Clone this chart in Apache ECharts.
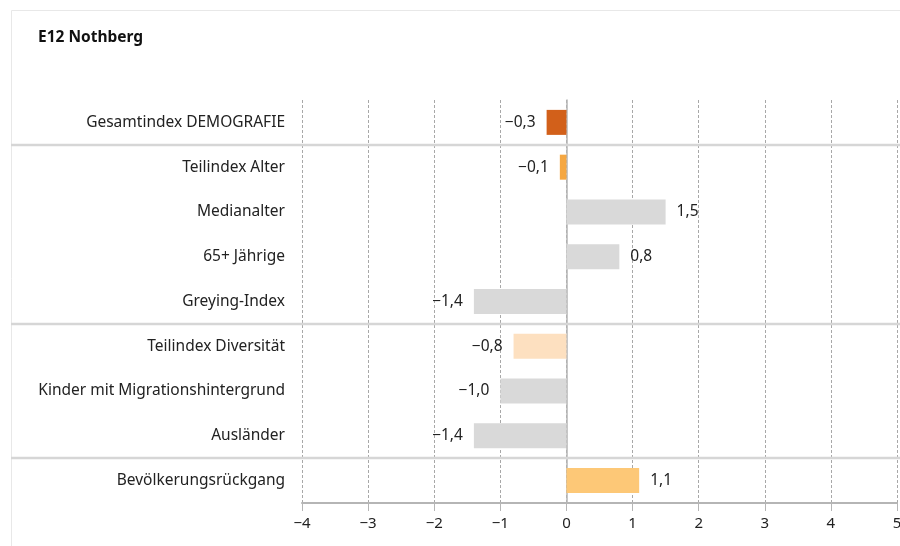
<!DOCTYPE html>
<html>
<head>
<meta charset="utf-8">
<script src="https://cdn.jsdelivr.net/npm/echarts@6/dist/echarts.min.js"></script>
<style>
  html, body { margin: 0; padding: 0; background: #fff; }
  #chart { width: 900px; height: 546px; }
</style>
</head>
<body>
<div id="chart"></div>
<script>
// Indicator names, top to bottom
const categories = [
  'Gesamtindex DEMOGRAFIE',
  'Teilindex Alter',
  'Medianalter',
  '65+ Jährige',
  'Greying-Index',
  'Teilindex Diversität',
  'Kinder mit Migrationshintergrund',
  'Ausländer',
  'Bevölkerungsrückgang'
];
// Index values per indicator
const values = [-0.3, -0.1, 1.5, 0.8, -1.4, -0.8, -1.0, -1.4, 1.1];
// Bar fill per indicator
const barColors = [
  '#d2601a', '#f5a742', '#d9d9d9', '#d9d9d9', '#d9d9d9',
  '#fde0c0', '#d9d9d9', '#d9d9d9', '#fdc877'
];
// Value axis ticks
const tickValues = [-4, -3, -2, -1, 0, 1, 2, 3, 4, 5];
// Group separators are drawn before these category positions
const groupStarts = [1, 5, 8];

const FONT = '"Noto Sans", "DejaVu Sans", sans-serif';
const fmt = v => String(v.toFixed(1)).replace('.', ',').replace('-', '\u2212');

const chart = echarts.init(document.getElementById('chart'), null, { renderer: 'canvas' });

chart.setOption({
  backgroundColor: '#fff',
  animation: false,
  title: {
    text: 'E12 Nothberg',
    left: 33,
    top: 25,
    textStyle: { fontFamily: FONT, fontSize: 15.5, fontWeight: 'bold', color: '#111' }
  },
  grid: { left: 302, right: 3, top: 100, bottom: 43, containLabel: false, outerBoundsMode: 'none' },
  xAxis: {
    type: 'value',
    min: tickValues[0],
    max: tickValues[tickValues.length - 1],
    interval: 1,
    axisLine: { show: true, lineStyle: { color: '#b5b5b5', width: 2 } },
    axisTick: { show: true, length: 8, lineStyle: { color: '#b5b5b5', width: 1 } },
    axisLabel: {
      margin: 13,
      fontFamily: FONT, fontSize: 15, color: '#222',
      formatter: v => String(v).replace('-', '\u2212')
    },
    splitLine: { show: true, lineStyle: { color: '#a8a8a8', type: [3, 2], width: 1 } }
  },
  yAxis: {
    type: 'category',
    inverse: true,
    data: categories,
    axisLine: { show: true, onZero: true, lineStyle: { color: '#b5b5b5', width: 1.5 } },
    axisTick: { show: false },
    axisLabel: { margin: 17, fontFamily: FONT, fontSize: 15.5, color: '#222' },
    splitLine: { show: false }
  },
  series: [{
    type: 'bar',
    barWidth: 25,
    data: values.map((v, i) => ({
      value: v,
      itemStyle: { color: barColors[i] },
      label: { position: v < 0 ? 'left' : 'right' }
    })),
    label: {
      show: true,
      distance: 11,
      fontFamily: FONT, fontSize: 15.5, color: '#222',
      formatter: p => fmt(p.value)
    }
  }]
});

// Frame and group separators, placed from the category axis scale
function drawDecor() {
  const yc = i => chart.convertToPixel({ yAxisIndex: 0 }, categories[i]);
  const lines = groupStarts.map(i => {
    const y = Math.round((yc(i - 1) + yc(i)) / 2);
    return {
      type: 'line',
      shape: { x1: 11, y1: y, x2: 900, y2: y },
      style: { stroke: '#d6d6d6', lineWidth: 2.5 },
      z: 10
    };
  });
  chart.setOption({
    graphic: [
      {
        type: 'rect',
        shape: { x: 11.5, y: 10.5, width: 1000, height: 1000 },
        style: { fill: 'none', stroke: '#e8e8e8', lineWidth: 1 },
        silent: true
      }
    ].concat(lines)
  });
}
drawDecor();
</script>
</body>
</html>
